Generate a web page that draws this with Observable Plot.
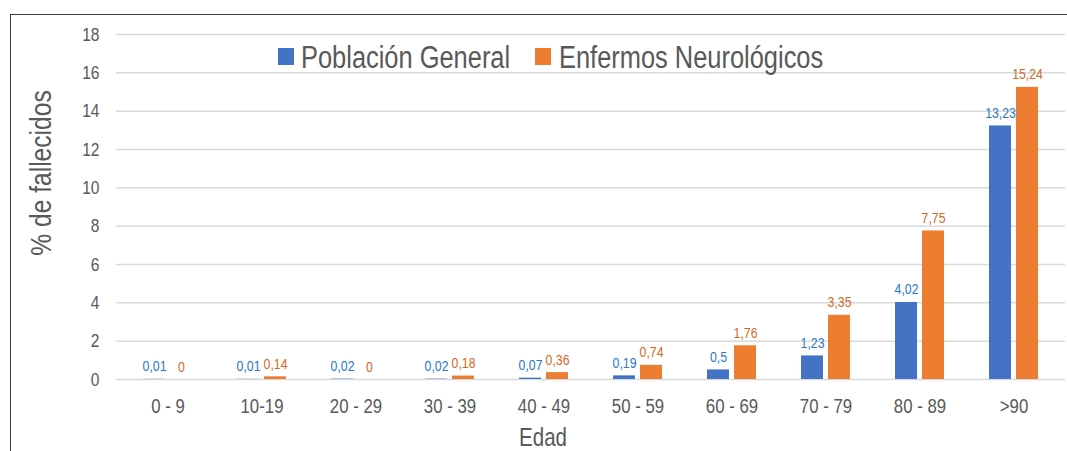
<!DOCTYPE html>
<html>
<head>
<meta charset="utf-8">
<script src="https://cdn.jsdelivr.net/npm/d3@7"></script>
<script src="https://cdn.jsdelivr.net/npm/@observablehq/plot@0.6"></script>
<style>
  html, body { margin: 0; padding: 0; background: #fff; }
  #wrap { position: relative; width: 1067px; height: 451px; overflow: hidden;
    font-family: "Liberation Sans", Arial, sans-serif; color: #595959; }
  #frameTop { position: absolute; left: 10px; top: 14px; width: 1057px; height: 0; border-top: 1.6px solid #3a3a3a; }
  #frameLeft { position: absolute; left: 9.5px; top: 14px; width: 0; height: 437px; border-left: 1.8px solid #3a3a3a; }
  .leg { position: absolute; top: 40px; font-size: 31px; line-height: 36px; white-space: nowrap;
    transform: scaleX(0.82); transform-origin: left center; }
  .sw { position: absolute; width: 16px; height: 17px; top: 48px; }
  #ylab { position: absolute; left: 41px; top: 173px; transform: translate(-50%, -50%) rotate(-90deg) scaleX(0.82);
    font-size: 30px; white-space: nowrap; line-height: 1; }
  #xlab { position: absolute; left: 543px; top: 425px; transform: translateX(-50%) scaleX(0.82);
    font-size: 25px; line-height: 25px; white-space: nowrap; }
</style>
</head>
<body>
<div id="wrap">
  <div id="chart"></div>
  <div id="frameTop"></div>
  <div id="frameLeft"></div>
  <div id="ylab">% de fallecidos</div>
  <div id="xlab">Edad</div>
</div>
<script>
const categories = ["0 - 9", "10-19", "20 - 29", "30 - 39", "40 - 49", "50 - 59", "60 - 69", "70 - 79", "80 - 89", ">90"];
const seriesNames = ["Población General", "Enfermos Neurológicos"];
const poblacionGeneral = [0.01, 0.01, 0.02, 0.02, 0.07, 0.19, 0.5, 1.23, 4.02, 13.23];
const enfermosNeurologicos = [0, 0.14, 0, 0.18, 0.36, 0.74, 1.76, 3.35, 7.75, 15.24];
const yTicks = [0, 2, 4, 6, 8, 10, 12, 14, 16, 18];
const barColors = ["#4472C4", "#ED7D31"];
const labelColors = ["#2878C8", "#D2691E"];

const fmt = v => String(v).replace(".", ",");
const blue = categories.map((c, i) => ({cat: c, val: poblacionGeneral[i]}));
const orange = categories.map((c, i) => ({cat: c, val: enfermosNeurologicos[i]}));

const plot = Plot.plot({
  width: 1067,
  height: 451,
  marginTop: 34,
  marginBottom: 72,
  marginLeft: 116,
  marginRight: 2,
  style: {fontFamily: "'Liberation Sans', Arial, sans-serif", color: "#595959", background: "transparent"},
  x: {type: "band", domain: categories, paddingInner: 0.484, paddingOuter: 0.242},
  y: {domain: [0, 18]},
  marks: [
    Plot.gridY(yTicks, {stroke: "#d9d9d9", strokeOpacity: 1, strokeWidth: 1.5}),
    Plot.barY(blue, {x: "cat", y: "val", fill: barColors[0], insetRight: 27}),
    Plot.barY(orange, {x: "cat", y: "val", fill: barColors[1], insetLeft: 27}),
    Plot.text(blue, {x: "cat", y: "val", text: d => fmt(d.val), dx: -13.5, dy: -8, lineAnchor: "bottom", fill: labelColors[0], fontSize: 15}),
    Plot.text(orange, {x: "cat", y: "val", text: d => fmt(d.val), dx: 13.5, dy: -8, lineAnchor: "bottom", fill: labelColors[1], fontSize: 15}),
    Plot.axisY({ticks: yTicks, tickSize: 0, tickPadding: 17, fontSize: 19, label: null}),
    Plot.axisX({tickSize: 0, tickPadding: 19, fontSize: 20.5, label: null})
  ]
});
// condense glyphs horizontally (narrow font look) around each text's anchor
plot.querySelectorAll("text").forEach(t => {
  const tr = t.getAttribute("transform") || "";
  t.setAttribute("transform", `${tr} scale(0.82,1)`);
});
document.getElementById("chart").appendChild(plot);

const wrap = document.getElementById("wrap");
const legendPos = [{sw: 278, tx: 301}, {sw: 535, tx: 559}];
seriesNames.forEach((name, i) => {
  const s = document.createElement("div");
  s.className = "sw";
  s.style.left = legendPos[i].sw + "px";
  s.style.background = barColors[i];
  wrap.appendChild(s);
  const t = document.createElement("div");
  t.className = "leg";
  t.style.left = legendPos[i].tx + "px";
  t.textContent = name;
  wrap.appendChild(t);
});
</script>
</body>
</html>
